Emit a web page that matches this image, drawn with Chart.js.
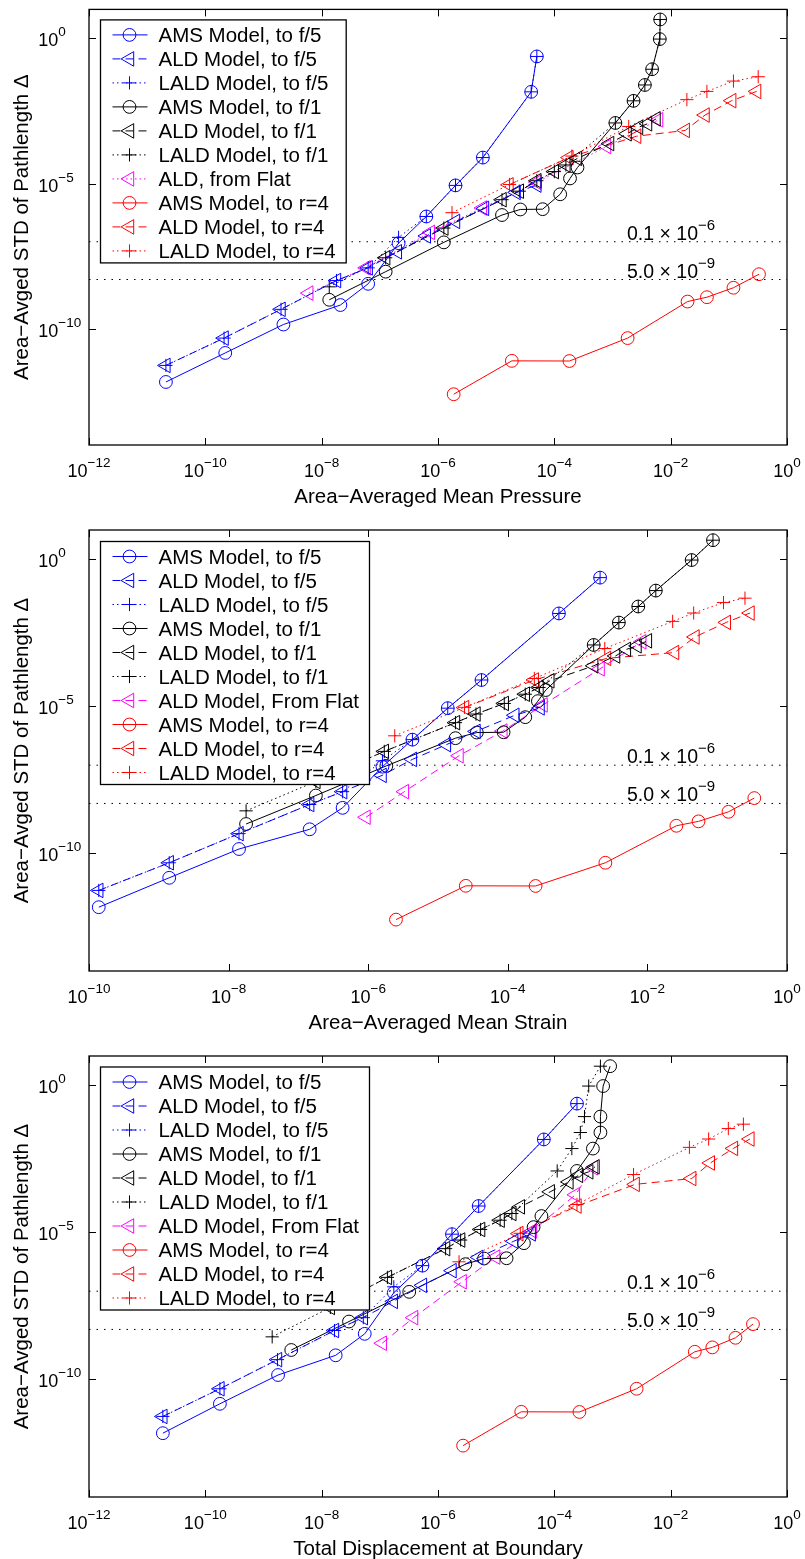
<!DOCTYPE html>
<html>
<head>
<meta charset="utf-8">
<title>Area-Averaged STD of Pathlength</title>
<script src="https://cdn.jsdelivr.net/npm/chart.js@4.4.1/dist/chart.umd.min.js"></script>
<style>
  html, body { margin: 0; padding: 0; background: #fff; }
  .panel { position: absolute; left: 0; }
</style>
</head>
<body>
<canvas id="pressureChart" class="panel" width="805" height="515" style="top:0px"></canvas>
<canvas id="strainChart" class="panel" width="805" height="525" style="top:515px"></canvas>
<canvas id="boundaryChart" class="panel" width="805" height="519" style="top:1040px"></canvas>
<script>
// ---- STD of pathlength (shared by all three panels) ----
const stdAmsF5  = [1.48e-12, 1.48e-11, 1.41e-10, 6.6e-10, 3.55e-9, 8.9e-8, 7.4e-7, 8.7e-6, 7.9e-5, 1.45e-2, 0.24];
const stdAldF5  = [5.5e-12, 4.8e-11, 4.7e-10, 4.6e-9, 1.26e-8, 4.5e-8, 1.58e-7, 5.0e-7, 1.41e-6, 5.0e-6, 8.9e-6];
const stdLaldF5 = [5.5e-12, 4.8e-11, 4.7e-10, 4.6e-9, 1.26e-8, 1.41e-7, 7.4e-7, 8.7e-6, 7.9e-5, 1.45e-2, 0.24];
const stdAmsF1  = [1.0e-9, 9.3e-9, 9.5e-8, 8.3e-7, 1.29e-6, 1.32e-6, 4.3e-6, 1.51e-5, 3.6e-5, 1.23e-3, 7.1e-3, 2.5e-2, 8.7e-2, 0.95, 4.5];
const stdAldF1  = [2.8e-8, 2.95e-7, 2.8e-6, 5.5e-6, 1.26e-5, 2.6e-5, 4.4e-5, 7.4e-5, 2.4e-4, 5.2e-4, 8.7e-4, 1.15e-3, 1.7e-3];
const stdLaldF1 = [2.8e-9, 2.8e-8, 2.95e-7, 2.8e-6, 5.5e-6, 1.26e-5, 2.6e-5, 4.4e-5, 1.23e-3, 7.1e-3, 2.5e-2, 8.7e-2, 0.95, 4.5];
const stdAldFlat = [1.7e-9, 1.26e-8, 2.1e-7, 1.45e-6, 1.12e-5, 1.9e-4, 1.58e-3];
const stdAmsR4  = [5.6e-13, 7.9e-12, 7.8e-12, 4.8e-11, 8.7e-10, 1.23e-9, 2.6e-9, 7.6e-9];
const stdAldR4  = [9.1e-6, 7.9e-5, 4.3e-4, 6.8e-4, 2.3e-3, 7.2e-3, 1.5e-2];
const stdLaldR4 = [1.0e-6, 9.3e-6, 8.9e-5, 9.3e-4, 7.8e-3, 1.5e-2, 3.4e-2, 4.8e-2];

// ---- area-averaged mean pressure ----
const pressureAmsF5  = [2.1e-11, 2.2e-10, 2.2e-9, 2.1e-8, 6.3e-8, 2.1e-7, 6.3e-7, 2.0e-6, 5.9e-6, 4.0e-5, 5.0e-5];
const pressureAldF5  = [2.1e-11, 2.1e-10, 2.0e-9, 1.8e-8, 6.3e-8, 2.0e-7, 6.3e-7, 2.0e-6, 6.3e-6, 2.2e-5, 5.0e-5];
const pressureLaldF5 = [2.1e-11, 2.1e-10, 2.0e-9, 1.8e-8, 6.3e-8, 2.1e-7, 6.3e-7, 2.0e-6, 5.9e-6, 4.0e-5, 5.0e-5];
const pressureAmsF1  = [1.35e-8, 1.26e-7, 1.26e-6, 1.26e-5, 2.6e-5, 6.3e-5, 1.26e-4, 1.86e-4, 2.5e-4, 1.12e-3, 2.3e-3, 3.6e-3, 4.8e-3, 6.5e-3, 6.6e-3];
const pressureAldF1  = [1.26e-7, 1.26e-6, 1.26e-5, 2.5e-5, 5.0e-5, 1.0e-4, 1.58e-4, 2.5e-4, 8.9e-4, 1.78e-3, 2.8e-3, 4.0e-3, 5.6e-3];
const pressureLaldF1 = [1.35e-8, 1.26e-7, 1.26e-6, 1.26e-5, 2.5e-5, 5.0e-5, 1.0e-4, 1.58e-4, 1.12e-3, 2.3e-3, 3.6e-3, 4.8e-3, 6.5e-3, 6.6e-3];
const pressureAldFlat = [6.0e-9, 5.8e-8, 7.4e-7, 5.8e-6, 5.0e-5, 7.9e-4, 6.2e-3];
const pressureAmsR4  = [1.86e-6, 1.86e-5, 1.82e-4, 1.82e-3, 1.95e-2, 4.2e-2, 0.12, 0.33];
const pressureAldR4  = [1.66e-5, 1.78e-4, 2.6e-3, 1.78e-2, 3.9e-2, 0.112, 0.30];
const pressureLaldR4 = [1.74e-6, 1.7e-5, 2.0e-4, 1.9e-3, 1.9e-2, 4.2e-2, 0.12, 0.32];

// ---- area-averaged mean strain ----
const strainAmsF5  = [1.38e-10, 1.41e-9, 1.41e-8, 1.45e-7, 4.3e-7, 1.6e-6, 4.3e-6, 1.38e-5, 4.2e-5, 5.4e-4, 2.1e-3];
const strainAldF5  = [1.38e-10, 1.41e-9, 1.41e-8, 1.45e-7, 4.3e-7, 1.58e-6, 4.3e-6, 1.32e-5, 3.5e-5, 1.26e-4, 2.9e-4];
const strainLaldF5 = [1.38e-10, 1.41e-9, 1.41e-8, 1.45e-7, 4.3e-7, 1.6e-6, 4.3e-6, 1.38e-5, 4.2e-5, 5.4e-4, 2.1e-3];
const strainAmsF1  = [1.78e-8, 1.78e-7, 1.82e-6, 1.78e-5, 3.6e-5, 8.7e-5, 1.78e-4, 2.7e-4, 3.5e-4, 1.7e-3, 3.9e-3, 7.4e-3, 1.32e-2, 4.3e-2, 8.7e-2];
const strainAldF1  = [1.78e-7, 1.7e-6, 1.78e-5, 3.5e-5, 8.9e-5, 1.78e-4, 2.8e-4, 4.0e-4, 1.7e-3, 3.5e-3, 5.0e-3, 7.1e-3, 1.0e-2];
const strainLaldF1 = [1.78e-8, 1.78e-7, 1.7e-6, 1.78e-5, 3.5e-5, 8.9e-5, 1.78e-4, 2.8e-4, 1.7e-3, 3.9e-3, 7.4e-3, 1.32e-2, 4.3e-2, 8.7e-2];
const strainAldFlat = [9.3e-7, 3.3e-6, 2.0e-5, 8.5e-5, 3.2e-4, 2.1e-3, 8.3e-3];
const strainAmsR4  = [2.5e-6, 2.5e-5, 2.5e-4, 2.5e-3, 2.6e-2, 5.4e-2, 0.145, 0.34];
const strainAldR4  = [2.4e-5, 2.4e-4, 2.6e-3, 2.45e-2, 4.8e-2, 0.135, 0.295];
const strainLaldR4 = [2.4e-6, 2.4e-5, 2.4e-4, 2.45e-3, 2.3e-2, 4.6e-2, 0.123, 0.25];

// ---- total displacement at boundary ----
const boundaryAmsF5  = [1.86e-11, 1.78e-10, 1.78e-9, 1.74e-8, 5.5e-8, 1.74e-7, 5.4e-7, 1.74e-6, 5.0e-6, 6.6e-5, 2.45e-4];
const boundaryAldF5  = [1.86e-11, 1.78e-10, 1.74e-9, 1.66e-8, 5.2e-8, 1.7e-7, 5.4e-7, 1.74e-6, 5.0e-6, 2.0e-5, 4.0e-5];
const boundaryLaldF5 = [1.86e-11, 1.78e-10, 1.74e-9, 1.66e-8, 5.2e-8, 1.74e-7, 5.4e-7, 1.74e-6, 5.0e-6, 6.6e-5, 2.45e-4];
const boundaryAmsF1  = [3.0e-9, 2.95e-8, 3.2e-7, 2.95e-6, 6.2e-6, 1.51e-5, 3.0e-5, 4.4e-5, 6.0e-5, 2.45e-4, 4.6e-4, 6.2e-4, 6.2e-4, 6.9e-4, 9.1e-4];
const boundaryAldF1  = [1.41e-8, 1.35e-7, 1.35e-6, 2.45e-6, 5.4e-6, 1.17e-5, 1.86e-5, 2.6e-5, 8.5e-5, 1.78e-4, 2.6e-4, 3.9e-4, 5.0e-4];
const boundaryLaldF1 = [1.41e-9, 1.41e-8, 1.35e-7, 1.35e-6, 2.45e-6, 5.4e-6, 1.17e-5, 1.86e-5, 1.12e-4, 2.0e-4, 2.8e-4, 3.3e-4, 3.9e-4, 6.2e-4];
const boundaryAldFlat = [1.1e-7, 3.8e-7, 2.6e-6, 9.8e-6, 4.2e-5, 2.3e-4, 4.7e-4];
const boundaryAmsR4  = [2.7e-6, 2.7e-5, 2.7e-4, 2.6e-3, 2.6e-2, 5.2e-2, 0.13, 0.26];
const boundaryAldR4  = [2.45e-5, 2.45e-4, 2.45e-3, 2.3e-2, 4.8e-2, 0.12, 0.23];
const boundaryLaldR4 = [2.3e-6, 2.6e-5, 2.45e-4, 2.3e-3, 2.1e-2, 4.5e-2, 9.8e-2, 0.178];

// tolerance levels marked with dotted lines
const toleranceLevels = [1e-7, 5e-9];
const toleranceMantissa = ['0.1', '5.0'];
const toleranceExponent = ['−6', '−9'];

const yTicks = [1e-10, 1e-5, 1];

const FONT = '"Liberation Sans", Arial, Helvetica, sans-serif';
const BLUE = '#0000ff', BLACK = '#000000', MAGENTA = '#ff00ff', RED = '#ff0000';
const SOLID = [], DASHED = [8, 5], DOTTED = [1.5, 3];

const seriesStyles = [
  { label: 'AMS Model, to f/5',  color: BLUE,    marker: 'circle',   dash: SOLID,  std: stdAmsF5 },
  { label: 'ALD Model, to f/5',  color: BLUE,    marker: 'triangle', dash: DASHED, std: stdAldF5 },
  { label: 'LALD Model, to f/5', color: BLUE,    marker: 'cross',    dash: DOTTED, std: stdLaldF5 },
  { label: 'AMS Model, to f/1',  color: BLACK,   marker: 'circle',   dash: SOLID,  std: stdAmsF1 },
  { label: 'ALD Model, to f/1',  color: BLACK,   marker: 'triangle', dash: DASHED, std: stdAldF1 },
  { label: 'LALD Model, to f/1', color: BLACK,   marker: 'cross',    dash: DOTTED, std: stdLaldF1 },
  { label: 'ALD Model, From Flat', color: MAGENTA, marker: 'triangle', dash: DASHED, std: stdAldFlat },
  { label: 'AMS Model, to r=4',  color: RED,     marker: 'circle',   dash: SOLID,  std: stdAmsR4 },
  { label: 'ALD Model, to r=4',  color: RED,     marker: 'triangle', dash: DASHED, std: stdAldR4 },
  { label: 'LALD Model, to r=4', color: RED,     marker: 'cross',    dash: DOTTED, std: stdLaldR4 }
];
const markerRadius = { circle: 6.4, triangle: 8.4, cross: 6.6 };

const panels = [
  {
    id: 'pressureChart', xMin: 1e-12, xTicks: [1e-12, 1e-10, 1e-8, 1e-6, 1e-4, 1e-2, 1],
    xTitle: 'Area−Averaged Mean Pressure', padding: { top: 5, bottom: 70 }, legendTop: 10,
    flatLabel: 'ALD, from Flat', flatDash: DOTTED,
    xs: [pressureAmsF5, pressureAldF5, pressureLaldF5, pressureAmsF1, pressureAldF1, pressureLaldF1,
         pressureAldFlat, pressureAmsR4, pressureAldR4, pressureLaldR4]
  },
  {
    id: 'strainChart', xMin: 1e-10, xTicks: [1e-10, 1e-8, 1e-6, 1e-4, 1e-2, 1],
    xTitle: 'Area−Averaged Mean Strain', padding: { top: 15, bottom: 69 }, legendTop: 11,
    flatLabel: null, flatDash: DASHED,
    xs: [strainAmsF5, strainAldF5, strainLaldF5, strainAmsF1, strainAldF1, strainLaldF1,
         strainAldFlat, strainAmsR4, strainAldR4, strainLaldR4]
  },
  {
    id: 'boundaryChart', xMin: 1e-12, xTicks: [1e-12, 1e-10, 1e-8, 1e-6, 1e-4, 1e-2, 1],
    xTitle: 'Total Displacement at Boundary', padding: { top: 16, bottom: 62 }, legendTop: 10.5,
    flatLabel: null, flatDash: DASHED,
    xs: [boundaryAmsF5, boundaryAldF5, boundaryLaldF5, boundaryAmsF1, boundaryAldF1, boundaryLaldF1,
         boundaryAldFlat, boundaryAmsR4, boundaryAldR4, boundaryLaldR4]
  }
];

function expText(v) {
  return String(Math.round(Math.log10(v))).replace('-', '−');
}

// "10" with a raised exponent; anchor is 'left' or 'center'
function drawPower(ctx, mantissa, exponent, x, y, anchor, baseSize, expSize, lift) {
  ctx.font = baseSize + 'px ' + FONT;
  const wb = ctx.measureText(mantissa).width;
  ctx.font = expSize + 'px ' + FONT;
  const we = ctx.measureText(exponent).width;
  const x0 = anchor === 'center' ? x - (wb + we) / 2 : x;
  ctx.textAlign = 'left';
  ctx.textBaseline = 'alphabetic';
  ctx.font = baseSize + 'px ' + FONT;
  ctx.fillText(mantissa, x0, y);
  ctx.font = expSize + 'px ' + FONT;
  ctx.fillText(exponent, x0 + wb, y - lift);
}

function drawMarker(ctx, marker, x, y) {
  const r = markerRadius[marker];
  ctx.beginPath();
  if (marker === 'circle') {
    ctx.arc(x, y, r, 0, Math.PI * 2);
  } else if (marker === 'triangle') {
    ctx.moveTo(x - r, y);
    ctx.lineTo(x + r * 0.5, y - r * 0.866);
    ctx.lineTo(x + r * 0.5, y + r * 0.866);
    ctx.closePath();
  } else {
    ctx.moveTo(x - r, y); ctx.lineTo(x + r, y);
    ctx.moveTo(x, y - r); ctx.lineTo(x, y + r);
  }
  ctx.stroke();
}

const matlabFrame = {
  id: 'matlabFrame',
  afterDraw(chart, args, opts) {
    const ctx = chart.ctx;
    const area = chart.chartArea;
    const xs = chart.scales.x, ys = chart.scales.y;
    ctx.save();

    // tolerance labels
    ctx.fillStyle = '#000';
    toleranceLevels.forEach((t, i) => {
      drawPower(ctx, toleranceMantissa[i] + ' × 10', toleranceExponent[i],
        area.right - 160, ys.getPixelForValue(t) - 2, 'left', 19.5, 15, 10);
    });

    // box
    ctx.strokeStyle = '#000';
    ctx.lineWidth = 1.3;
    ctx.setLineDash([]);
    ctx.strokeRect(area.left, area.top, area.right - area.left, area.bottom - area.top);

    // inward tick marks
    ctx.lineWidth = 1;
    ctx.beginPath();
    opts.xTicks.forEach(v => {
      const px = Math.round(xs.getPixelForValue(v)) + 0.5;
      ctx.moveTo(px, area.bottom); ctx.lineTo(px, area.bottom - 7);
      ctx.moveTo(px, area.top); ctx.lineTo(px, area.top + 7);
    });
    yTicks.forEach(v => {
      const py = Math.round(ys.getPixelForValue(v)) + 0.5;
      ctx.moveTo(area.left, py); ctx.lineTo(area.left + 7, py);
      ctx.moveTo(area.right, py); ctx.lineTo(area.right - 7, py);
    });
    ctx.stroke();

    // tick labels
    opts.xTicks.forEach(v => {
      drawPower(ctx, '10', expText(v), xs.getPixelForValue(v), area.bottom + 31.7, 'center', 18, 13.5, 10);
    });
    yTicks.forEach(v => {
      drawPower(ctx, '10', expText(v), 38.3, ys.getPixelForValue(v) + 8, 'left', 18, 13.5, 10);
    });

    // axis titles
    ctx.font = '20.5px ' + FONT;
    ctx.textAlign = 'center';
    ctx.textBaseline = 'alphabetic';
    ctx.fillText(opts.xTitle, (area.left + area.right) / 2, area.bottom + 57.7);
    ctx.save();
    ctx.translate(28.3, (area.top + area.bottom) / 2);
    ctx.rotate(-Math.PI / 2);
    ctx.fillText('Area−Avged STD of Pathlength Δ', 0, 0);
    ctx.restore();

    // legend
    const entries = opts.entries;
    ctx.font = '20.5px ' + FONT;
    const textW = Math.max(...entries.map(e => ctx.measureText(e.label).width));
    const left = area.left + 11.5, top = area.top + opts.legendTop + 0.5;
    const boxW = 58 + textW + 10.5, boxH = 243;
    ctx.fillStyle = '#fff';
    ctx.fillRect(left, top, boxW, boxH);
    ctx.strokeStyle = '#000';
    ctx.lineWidth = 1.3;
    ctx.strokeRect(left, top, boxW, boxH);
    entries.forEach((e, i) => {
      const cy = top + 15 + 24 * i;
      ctx.strokeStyle = e.color;
      ctx.lineWidth = 1;
      ctx.setLineDash(e.dash);
      ctx.beginPath();
      ctx.moveTo(left + 12, cy); ctx.lineTo(left + 47, cy);
      ctx.stroke();
      ctx.setLineDash([]);
      drawMarker(ctx, e.marker, left + 29, cy);
      ctx.fillStyle = '#000';
      ctx.textAlign = 'left';
      ctx.fillText(e.label, left + 58, cy + 7.3);
    });
    ctx.restore();
  }
};

panels.forEach(p => {
  const entries = seriesStyles.map((s, i) => ({
    label: i === 6 && p.flatLabel ? p.flatLabel : s.label,
    color: s.color,
    marker: s.marker,
    dash: i === 6 ? p.flatDash : s.dash
  }));

  const datasets = entries.map((e, i) => ({
    label: e.label,
    data: p.xs[i].map((x, j) => ({ x: x, y: seriesStyles[i].std[j] })),
    borderColor: e.color,
    borderWidth: 1,
    borderDash: e.dash,
    pointStyle: e.marker,
    pointRotation: e.marker === 'triangle' ? -90 : 0,
    pointRadius: markerRadius[e.marker],
    pointBorderColor: e.color,
    pointBackgroundColor: 'rgba(0,0,0,0)',
    pointBorderWidth: 1,
    fill: false,
    tension: 0
  }));

  toleranceLevels.forEach(t => {
    datasets.push({
      label: 'tolerance',
      data: [{ x: p.xMin, y: t }, { x: 1, y: t }],
      borderColor: '#000',
      borderWidth: 1,
      borderDash: [1.5, 6],
      pointRadius: 0,
      fill: false
    });
  });

  new Chart(document.getElementById(p.id), {
    type: 'line',
    data: { datasets: datasets },
    options: {
      responsive: false,
      animation: false,
      devicePixelRatio: 1,
      layout: { padding: { left: 89, right: 18, top: p.padding.top, bottom: p.padding.bottom } },
      scales: {
        x: { type: 'logarithmic', display: false, min: p.xMin, max: 1 },
        y: { type: 'logarithmic', display: false, min: 1e-14, max: 10 }
      },
      plugins: {
        legend: { display: false },
        tooltip: { enabled: false },
        matlabFrame: { xTicks: p.xTicks, xTitle: p.xTitle, entries: entries, legendTop: p.legendTop }
      }
    },
    plugins: [matlabFrame]
  });
});
</script>
</body>
</html>
